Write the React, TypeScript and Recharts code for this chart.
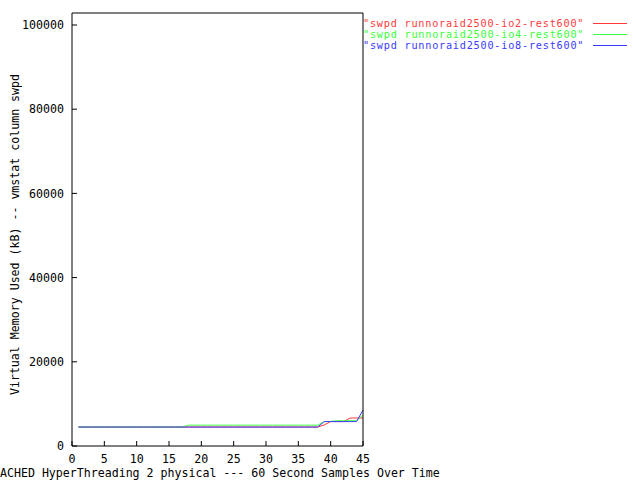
import React from 'react';
import { LineChart, Line, XAxis, YAxis, Legend } from 'recharts';

// 60 second samples (x axis)
const samples = [
  1, 2, 3, 4, 5, 6, 7, 8, 9, 10, 11, 12, 13, 14, 15, 16, 17, 18, 19, 20, 21, 22, 23,
  24, 25, 26, 27, 28, 29, 30, 31, 32, 33, 34, 35, 36, 37, 38, 39, 40, 41, 42, 43, 44, 45,
];

// swpd (kB) per run
const io2Swpd = [
  4500, 4500, 4500, 4500, 4500, 4500, 4500, 4500, 4500, 4500, 4500, 4500, 4500, 4500, 4500,
  4500, 4500, 4500, 4500, 4500, 4500, 4500, 4500, 4500, 4500, 4500, 4500, 4500, 4500, 4500,
  4500, 4500, 4500, 4500, 4500, 4500, 4500, 4500, 5000, 5800, 5800, 5800, 6650, 6650, 6650,
];
const io4Swpd = [
  4500, 4500, 4500, 4500, 4500, 4500, 4500, 4500, 4500, 4500, 4500, 4500, 4500, 4500, 4500,
  4500, 4500, 4950, 4950, 4950, 4950, 4950, 4950, 4950, 4950, 4950, 4950, 4950, 4950, 4950,
  4950, 4950, 4950, 4950, 4950, 4950, 4950, 4950, 5800, 5850, 6000, 6000, 6000, 6000, 7350,
];
const io8Swpd = [
  4500, 4500, 4500, 4500, 4500, 4500, 4500, 4500, 4500, 4500, 4500, 4500, 4500, 4500, 4500,
  4500, 4500, 4500, 4500, 4500, 4500, 4500, 4500, 4500, 4500, 4500, 4500, 4500, 4500, 4500,
  4500, 4500, 4500, 4500, 4500, 4500, 4500, 4500, 5800, 5800, 5800, 5800, 5800, 5800, 8550,
];

const seriesKeys = ['io2', 'io4', 'io8'];
const seriesNames = [
  '"swpd runnoraid2500-io2-rest600"',
  '"swpd runnoraid2500-io4-rest600"',
  '"swpd runnoraid2500-io8-rest600"',
];
const seriesColors = ['#ff3a3a', '#3aff3a', '#3a3aff'];

const xTicks = [0, 5, 10, 15, 20, 25, 30, 35, 40, 45];
const yTicks = [0, 20000, 40000, 60000, 80000, 100000];

const font = "'DejaVu Sans Mono', monospace";

const data = samples.map((s, i) => ({
  sample: s,
  io2: io2Swpd[i],
  io4: io4Swpd[i],
  io8: io8Swpd[i],
}));

const renderLegend = () => (
  <svg width={275} height={44} style={{ display: 'block' }}>
    {seriesNames.map((name, i) => (
      <g key={name}>
        <text
          x={0}
          y={14 + i * 11}
          fontFamily={font}
          fontSize={10.2}
          letterSpacing={0.78}
          fill={seriesColors[i]}
        >
          {name}
        </text>
        <line
          x1={230}
          x2={264}
          y1={10.5 + i * 11.2}
          y2={10.5 + i * 11.2}
          stroke={seriesColors[i]}
          strokeWidth={1}
          shapeRendering="crispEdges"
        />
      </g>
    ))}
  </svg>
);

const YLabel = (props: any) => {
  const vb = props.viewBox || {};
  const cy = vb.y + vb.height / 2 + 5;
  return (
    <text
      x={19}
      y={cy}
      transform={`rotate(-90 19 ${cy})`}
      textAnchor="middle"
      fontFamily={font}
      fontSize={11.6}
      fill="#000"
    >
      Virtual Memory Used (kB) -- vmstat column swpd
    </text>
  );
};

const XLabel = () => (
  <text x={0} y={477} textAnchor="start" fontFamily={font} fontSize={11.6} fill="#000">
    ACHED HyperThreading 2 physical --- 60 Second Samples Over Time
  </text>
);

export default function App() {
  const tickStyle = { fontFamily: font, fontSize: 11.6, fill: '#000' };
  return (
    <div style={{ position: 'fixed', left: 0, top: 0, background: '#fff' }}>
      <LineChart
        width={640}
        height={480}
        data={data}
        margin={{ top: 12, right: 276, bottom: 0, left: 0 }}
      >
        <XAxis
          dataKey="sample"
          type="number"
          domain={[0, 45]}
          ticks={xTicks}
          interval={0}
          height={34}
          tickSize={-5}
          tickMargin={14}
          tick={tickStyle}
          axisLine={{ stroke: '#000' }}
          tickLine={{ stroke: '#000' }}
          label={<XLabel />}
        />
        <XAxis
          xAxisId="top"
          orientation="top"
          dataKey="sample"
          type="number"
          domain={[0, 45]}
          ticks={xTicks}
          interval={0}
          height={1}
          tickSize={-5}
          tick={false}
          axisLine={{ stroke: '#000' }}
          tickLine={{ stroke: '#000' }}
        />
        <YAxis
          type="number"
          domain={[0, 102850]}
          ticks={yTicks}
          interval={0}
          width={72}
          tickSize={-5}
          tickMargin={13}
          tick={tickStyle}
          axisLine={{ stroke: '#000' }}
          tickLine={{ stroke: '#000' }}
          label={<YLabel />}
        />
        <YAxis
          yAxisId="right"
          orientation="right"
          type="number"
          domain={[0, 102850]}
          ticks={yTicks}
          interval={0}
          width={1}
          tickSize={-5}
          tick={false}
          axisLine={{ stroke: '#000' }}
          tickLine={{ stroke: '#000' }}
        />
        <Legend
          layout="horizontal"
          verticalAlign="middle"
          align="center"
          content={renderLegend}
          wrapperStyle={{ position: 'absolute', left: 363, top: 13, width: 275, height: 44 }}
        />
        {seriesKeys.map((key, i) => (
          <Line
            key={key}
            dataKey={key}
            name={seriesNames[i]}
            stroke={seriesColors[i]}
            strokeWidth={1}
            dot={false}
            activeDot={false}
            type="linear"
            isAnimationActive={false}
          />
        ))}
        {/* invisible series so the mirror axes are in use */}
        <Line
          xAxisId="top"
          yAxisId="right"
          dataKey="io8"
          stroke="none"
          dot={false}
          activeDot={false}
          legendType="none"
          isAnimationActive={false}
        />
      </LineChart>
    </div>
  );
}
